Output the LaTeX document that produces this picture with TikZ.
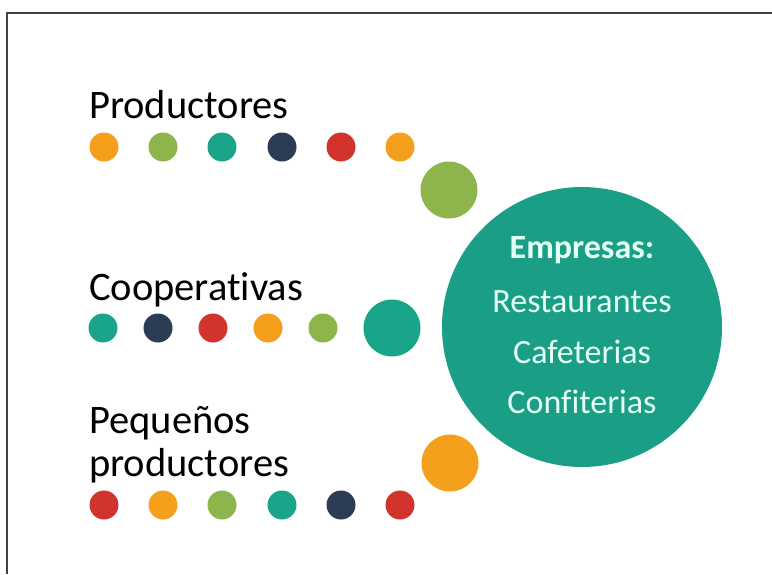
\documentclass[tikz,border=0pt]{standalone}
\usepackage{fontspec}
\setmainfont[Ligatures=NoCommon]{Carlito}

\definecolor{dotorange}{HTML}{F5A01C}
\definecolor{dotgreen}{HTML}{8DB54C}
\definecolor{dotteal}{HTML}{1AA58A}
\definecolor{dotnavy}{HTML}{2C3C55}
\definecolor{dotred}{HTML}{D0342C}
\definecolor{empteal}{HTML}{1B9E86}
\definecolor{emptext}{HTML}{E4FFF4}

\begin{document}
\begin{tikzpicture}[x=1pt, y=-1pt]
	\tikzstyle{dot}       = [circle, minimum size=29pt, inner sep=0pt]
	\tikzstyle{bigdot}    = [circle, minimum size=57pt, inner sep=0pt]
	\tikzstyle{grouptext} = [anchor=base west, inner sep=0pt, align=left, font=\fontsize{40.5}{43}\selectfont]
	\tikzstyle{emptext}   = [anchor=base, inner sep=0pt, text=emptext, font=\fontsize{34}{40}\selectfont]

	\useasboundingbox (0,0) rectangle (772,574);
	\draw[line width=2pt, black!75] (7,574) -- (7,13) -- (772,13);

	% grupos
	\node[grouptext] (prod) at (89,118) {Productores};
	\node[grouptext] (coop) at (89,300) {Cooperativas};
	\node[grouptext] (peq)  at (89,476) {Pequeños\\productores};

	\foreach \name/\x/\c in {a1/104/dotorange, a2/163/dotgreen, a3/222/dotteal, a4/282/dotnavy, a5/341/dotred, a6/400/dotorange}
		\node[dot, fill=\c] (\name) at (\x, 147) {};

	\foreach \name/\x/\c in {b1/103/dotteal, b2/158/dotnavy, b3/213/dotred, b4/268/dotorange, b5/323/dotgreen}
		\node[dot, fill=\c] (\name) at (\x, 328) {};

	\foreach \name/\x/\c in {c1/104/dotred, c2/163/dotorange, c3/222/dotgreen, c4/282/dotteal, c5/341/dotnavy, c6/400/dotred}
		\node[dot, fill=\c] (\name) at (\x, 505) {};

	\node[bigdot, fill=dotgreen]  (ga) at (449, 190) {};
	\node[bigdot, fill=dotteal]   (gb) at (392, 328) {};
	\node[bigdot, fill=dotorange] (gc) at (450, 463) {};

	% empresas
	\node[circle, minimum size=280pt, inner sep=0pt, fill=empteal] (empresas) at (582, 327) {};
	\foreach \name/\y/\t in {e1/258/\textbf{Empresas:}, e2/312/Restaurantes, e3/363/Cafeterias, e4/413/Confiterias}
		\node[emptext] (\name) at (582, \y) {\t};
\end{tikzpicture}
\end{document}
